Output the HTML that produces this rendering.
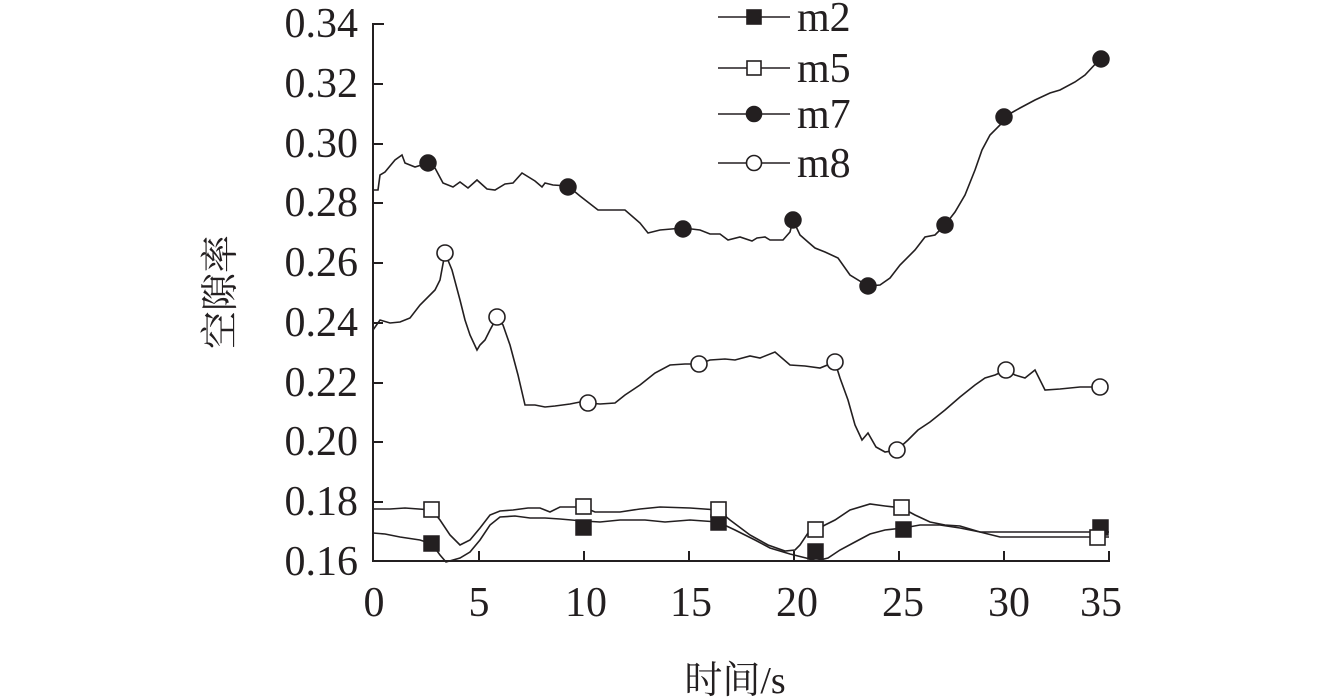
<!DOCTYPE html>
<html><head><meta charset="utf-8"><style>
html,body{margin:0;padding:0;background:#fff;}
svg{display:block}
text{font-family:"Liberation Serif","Noto Serif CJK SC",serif;fill:#231f20}
</style></head><body>
<svg width="1342" height="700" viewBox="0 0 1342 700" xmlns="http://www.w3.org/2000/svg">
<g stroke="#231f20" stroke-width="2" fill="none">
<polyline points="384,24 373,24 373,561 1109,561 1109,551"/>
<path d="M373,84h10M373,144h10M373,203h10M373,263h10M373,323h10M373,383h10M373,442h10M373,502h10M479,561v-10M584,561v-10M689,561v-10M794,561v-10M899,561v-10M1004,561v-10"/>
</g>
<g font-size="42" text-anchor="end">
<text x="358" y="37">0.34</text><text x="358" y="97">0.32</text><text x="358" y="157">0.30</text>
<text x="358" y="216">0.28</text><text x="358" y="276">0.26</text><text x="358" y="336">0.24</text>
<text x="358" y="396">0.22</text><text x="358" y="455">0.20</text><text x="358" y="515">0.18</text>
<text x="358" y="575">0.16</text>
</g>
<g font-size="42" text-anchor="middle">
<text x="374" y="616">0</text><text x="479" y="616">5</text><text x="586" y="616">10</text>
<text x="691" y="616">15</text><text x="797" y="616">20</text><text x="903" y="616">25</text>
<text x="1009" y="616">30</text><text x="1101" y="616">35</text>
</g>
<text x="735" y="693" font-size="38" text-anchor="middle">时间/s</text>
<text transform="translate(233,292) rotate(-90)" font-size="38" text-anchor="middle">空隙率</text>
<g stroke="#231f20" stroke-width="1.6" fill="none">
<polyline points="373,190 378,190 380,175 385,172 395,160 402,155 405,163 415,167 428,163 435,168 443,183 453,187 460,182 468,188 477,180 487,189 495,190 505,184 513,183 522,173 535,181 542,187 545,183 553,185 568,186 580,196 598,210 625,210 640,223 648,233 660,230 683,228 700,230 710,234 720,234 728,240 740,237 752,241 757,238 765,237 770,240 783,240 790,232 793,220 800,235 808,242 815,248 825,252 838,258 850,275 868,286 880,285 890,278 900,265 915,250 925,237 935,235 945,225 955,212 965,195 975,170 982,150 990,135 1000,125 1004,117 1020,108 1035,100 1050,93 1060,90 1075,82 1085,75 1100,59"/>
<polyline points="373,330 380,320 390,323 400,322 410,318 420,305 435,290 440,280 445,253 452,270 460,300 465,320 470,335 477,350 480,345 485,340 490,330 497,317 503,325 510,345 518,375 525,405 535,405 545,407 555,406 570,404 580,402 588,403 600,404 615,403 625,395 640,385 655,373 670,365 685,364 699,364 710,360 725,359 735,360 750,356 760,358 775,352 790,365 805,366 820,368 835,362 840,378 848,400 855,425 862,440 868,433 876,447 885,452 897,450 908,440 918,430 930,422 945,410 960,397 975,385 985,378 995,375 1006,370 1015,375 1025,378 1035,370 1045,390 1060,389 1080,387 1100,387"/>
<polyline points="373,509 390,509 405,508 432,510 440,520 450,535 460,545 470,540 480,528 490,515 500,511 513,510 528,508 540,508 550,512 560,507 583,507 595,512 620,512 640,509 660,507 690,508 718,510 730,520 750,535 768,545 785,551 795,550 800,545 808,533 816,530 825,525 835,520 850,510 870,504 885,506 902,508 915,515 930,522 945,525 960,526 980,532 1000,537 1020,537 1109,537"/>
<polyline points="373,533 385,534 400,537 420,540 432,544 440,555 446,562 460,558 470,552 480,540 490,525 500,517 515,516 530,518 545,518 560,519 583,521 600,522 620,520 645,520 665,522 690,520 718,522 735,530 755,540 770,548 790,554 806,558 816,561 828,558 840,550 855,542 870,534 885,530 903,528 920,525 940,525 960,528 980,532 1109,532"/>
</g>
<g fill="#231f20" stroke="#231f20" stroke-width="1.5">
<circle cx="428" cy="163" r="8"/><circle cx="568" cy="187" r="8"/><circle cx="683" cy="229" r="8"/><circle cx="793" cy="220" r="8"/><circle cx="868" cy="286" r="8"/><circle cx="945" cy="225" r="8"/><circle cx="1004" cy="117" r="8"/><circle cx="1101" cy="59" r="8"/>
<rect x="424" y="536" width="15" height="15"/><rect x="576" y="520" width="15" height="15"/><rect x="711" y="515" width="15" height="15"/><rect x="808" y="544" width="15" height="15"/><rect x="896" y="522" width="15" height="15"/><rect x="1093" y="520" width="15" height="15"/>
</g>
<g fill="#fff" stroke="#231f20" stroke-width="1.6">
<circle cx="445" cy="253" r="8"/><circle cx="497" cy="317" r="8"/><circle cx="588" cy="403" r="8"/><circle cx="699" cy="364" r="8"/><circle cx="835" cy="362" r="8"/><circle cx="897" cy="450" r="8"/><circle cx="1006" cy="370" r="8"/><circle cx="1100" cy="387" r="8"/>
<rect x="424" y="502" width="15" height="15"/><rect x="576" y="499" width="15" height="15"/><rect x="711" y="502" width="15" height="15"/><rect x="808" y="522" width="15" height="15"/><rect x="894" y="500" width="15" height="15"/><rect x="1090" y="530" width="15" height="15"/>
</g>
<g stroke="#231f20" stroke-width="1.6">
<path d="M718,17h72M718,68h72M718,114h72M718,163h72" fill="none"/>
<rect x="747" y="10" width="14" height="14" fill="#231f20"/>
<rect x="747" y="61" width="14" height="14" fill="#fff"/>
<circle cx="754" cy="114" r="7.5" fill="#231f20"/>
<circle cx="754" cy="163" r="7.5" fill="#fff"/>
</g>
<g font-size="42">
<text x="797" y="31">m2</text><text x="797" y="82">m5</text><text x="797" y="128">m7</text><text x="797" y="177">m8</text>
</g>
</svg>
</body></html>
